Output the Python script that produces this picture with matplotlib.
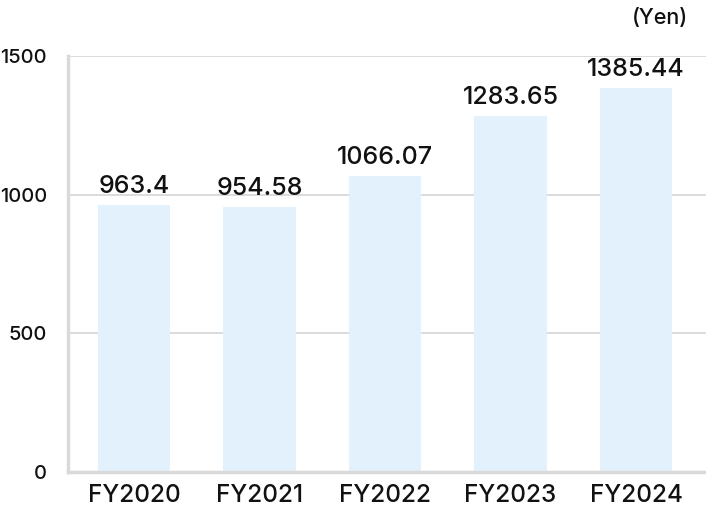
import matplotlib.pyplot as plt

plt.rcParams['font.family'] = ['Inter', 'DejaVu Sans']
plt.rcParams['font.weight'] = 'medium'

# datos
years = ['FY2020', 'FY2021', 'FY2022', 'FY2023', 'FY2024']
values = [963.4, 954.58, 1066.07, 1283.65, 1385.44]
value_labels = ['963.4', '954.58', '1066.07', '1283.65', '1385.44']
yticks = [0, 500, 1000, 1500]

fig = plt.figure(figsize=(7.06, 5.12), dpi=100)
ax = fig.add_axes([68/706, 40/512, 638/706, 416/512])

x = list(range(len(years)))
ax.bar(x, values, width=0.575, color='#e3f1fc', zorder=2)

for xi, v, lab in zip(x, values, value_labels):
    ax.text(xi, v + 26, lab, ha='center', va='bottom', fontsize=18, color='#111111')

ax.set_xlim(-0.526, 4.558)
ax.set_ylim(0, 1500)
ax.set_yticks(yticks)
ax.set_yticklabels([str(t) for t in yticks], fontsize=14.5, color='#111111')
ax.set_xticks(x)
ax.set_xticklabels(years, fontsize=17.5, color='#111111')
ax.tick_params(axis='both', length=0)
ax.tick_params(axis='y', pad=15)
ax.tick_params(axis='x', pad=9)

ax.grid(axis='y', color='#d9d9d9', linewidth=1.3, zorder=0)
for s in ['top', 'right']:
    ax.spines[s].set_visible(False)
for s in ['left', 'bottom']:
    ax.spines[s].set_color('#d9d9d9')
    ax.spines[s].set_linewidth(2.5)

fig.text(0.975, 0.985, '(Yen)', ha='right', va='top', fontsize=15.5, color='#111111')

fig.savefig('out.png', dpi=100)
